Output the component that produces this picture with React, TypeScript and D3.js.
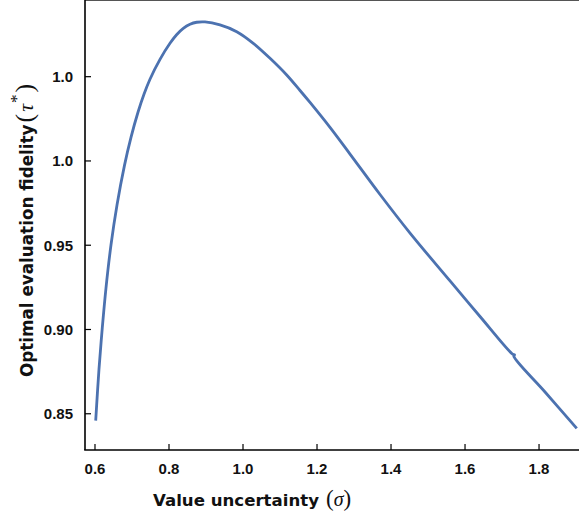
import React from "react";
import * as d3 from "d3";

// Value uncertainty (sigma) and the matching optimal evaluation fidelity (tau*)
const sigma = [
  0.6019, 0.6108, 0.6197, 0.6297, 0.6432, 0.6595, 0.6797, 0.6973, 0.7162, 0.7324,
  0.7486, 0.7757, 0.8027, 0.8205, 0.8386, 0.8568, 0.8749, 0.8973, 0.9378, 0.983,
  1.0278, 1.073, 1.1181, 1.1541, 1.1811, 1.2351, 1.2892, 1.3703, 1.4514, 1.5595,
  1.6405, 1.7284, 1.7338, 1.7319, 1.8162, 1.9019,
];
const tau = [
  0.8459, 0.8765, 0.9009, 0.9246, 0.9501, 0.9739, 0.9974, 1.014, 1.0289, 1.0396,
  1.0485, 1.0603, 1.0698, 1.0749, 1.0787, 1.0811, 1.0823, 1.0825, 1.0807, 1.0767,
  1.0698, 1.0609, 1.051, 1.0418, 1.0347, 1.0199, 1.0041, 0.9801, 0.9572, 0.9288,
  0.9077, 0.8854, 0.885, 0.8841, 0.8629, 0.8413,
];

const xTicks = [0.6, 0.8, 1.0, 1.2, 1.4, 1.6, 1.8];
const xTickLabels = ["0.6", "0.8", "1.0", "1.2", "1.4", "1.6", "1.8"];
const yTicks = [0.85, 0.9, 0.95, 1.0, 1.05];
const yTickLabels = ["0.85", "0.90", "0.95", "1.0", "1.0"];

const W = 579;
const H = 512;
const left = 85;
const bottom = 450;

export default function App() {
  const x = d3.scaleLinear().domain([0.573, 1.908]).range([left, W]);
  const y = d3.scaleLinear().domain([0.8285, 1.0955]).range([bottom, 0]);

  const pts: [number, number][] = sigma.map((s, i) => [s, tau[i]]);
  const line = d3
    .line<[number, number]>()
    .x((d) => x(d[0]))
    .y((d) => y(d[1]))
    .curve(d3.curveCatmullRom.alpha(0.5));

  const tickFont = "'Liberation Sans', Arial, sans-serif";
  const titleFont = "'DejaVu Sans', sans-serif";
  const mathFont = "'Liberation Serif', 'DejaVu Serif', serif";

  return (
    <svg
      width={W}
      height={H}
      style={{ position: "absolute", left: 0, top: 0, background: "#fff" }}
    >
      <rect x={0} y={0} width={W} height={H} fill="#fff" />
      {/* frame */}
      <line x1={left} x2={W} y1={0.5} y2={0.5} stroke="#555" strokeWidth={1} />
      <line x1={left} x2={left} y1={0} y2={bottom} stroke="#000" strokeWidth={1.6} />
      <line x1={left - 0.8} x2={W} y1={bottom} y2={bottom} stroke="#000" strokeWidth={1.6} />

      {/* x ticks */}
      {xTicks.map((t, i) => (
        <g key={"xt" + i}>
          <line x1={x(t)} x2={x(t)} y1={bottom} y2={bottom - 6} stroke="#000" strokeWidth={1.2} />
          <text
            x={x(t)}
            y={473.5}
            textAnchor="middle"
            fontFamily={tickFont}
            fontWeight="bold"
            fontSize={15}
            fill="#111"
          >
            {xTickLabels[i]}
          </text>
        </g>
      ))}

      {/* y ticks */}
      {yTicks.map((t, i) => (
        <g key={"yt" + i}>
          <line x1={left} x2={left + 6} y1={y(t)} y2={y(t)} stroke="#000" strokeWidth={1.2} />
          <text
            x={73}
            y={y(t) + 5.3}
            textAnchor="end"
            fontFamily={tickFont}
            fontWeight="bold"
            fontSize={15}
            fill="#111"
          >
            {yTickLabels[i]}
          </text>
        </g>
      ))}

      {/* curve */}
      <path d={line(pts) || ""} fill="none" stroke="#4c72b0" strokeWidth={2.8} strokeLinejoin="round" />

      {/* x title */}
      <text x={153} y={506} fontFamily={titleFont} fontWeight="bold" fontSize={16.6} fill="#111">
        Value uncertainty
        <tspan fontFamily={mathFont} fontWeight="normal" fontSize={23} dx={7}>(</tspan>
        <tspan fontFamily={mathFont} fontWeight="normal" fontStyle="italic" fontSize={20}>σ</tspan>
        <tspan fontFamily={mathFont} fontWeight="normal" fontSize={23}>)</tspan>
      </text>

      {/* y title */}
      <text
        transform={`translate(33,377) rotate(-90)`}
        fontFamily={titleFont}
        fontWeight="bold"
        fontSize={16.8}
        fill="#111"
      >
        Optimal evaluation fidelity
        <tspan fontFamily={mathFont} fontWeight="normal" fontSize={26} dx={2}>(</tspan>
        <tspan fontFamily={mathFont} fontWeight="normal" fontStyle="italic" fontSize={22} dx={2}>τ</tspan>
        <tspan fontFamily={mathFont} fontWeight="normal" fontSize={17} dy={-11} dx={1}>*</tspan>
        <tspan fontFamily={mathFont} fontWeight="normal" fontSize={26} dy={11} dx={2}>)</tspan>
      </text>
    </svg>
  );
}
